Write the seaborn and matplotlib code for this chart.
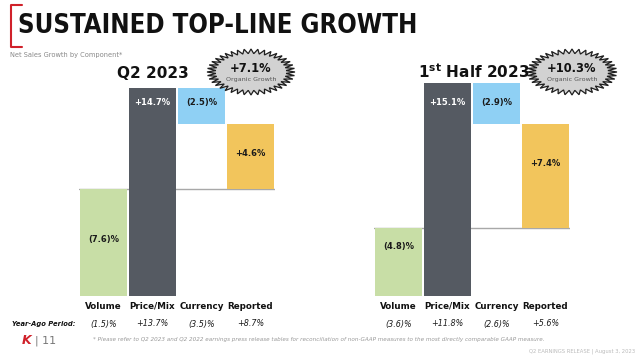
import numpy as np
import pandas as pd
import matplotlib
matplotlib.use("Agg")
import matplotlib.pyplot as plt
import seaborn as sns
from matplotlib import font_manager as fm
from matplotlib.patches import Polygon
from matplotlib.lines import Line2D

# ---------------- data ----------------
categories = ["Volume", "Price/Mix", "Currency", "Reported"]
q2_changes = [-7.6, 14.7, -2.5, 4.6]
h1_changes = [-4.8, 15.1, -2.9, 7.4]
q2_labels = ["(7.6)%", "+14.7%", "(2.5)%", "+4.6%"]
h1_labels = ["(4.8)%", "+15.1%", "(2.9)%", "+7.4%"]
q2_year_ago = ["(1.5)%", "+13.7%", "(3.5)%", "+8.7%"]
h1_year_ago = ["(3.6)%", "+11.8%", "(2.6)%", "+5.6%"]
q2_organic = "+7.1%"
h1_organic = "+10.3%"
bar_colors = ["#C8DEA6", "#555A62", "#8FD0F4", "#F2C55C"]

sns.set_theme(style="white")
plt.rcParams["font.family"] = ["DejaVu Sans"]

W, H = 640, 356
fig = plt.figure(figsize=(W / 100, H / 100), dpi=100)


def fx(px):
    return px / W


def fy(py):
    return 1 - py / H


PX_PER_UNIT = 14.13
AX_TOP, AX_BOT = 80, 296
span = (AX_BOT - AX_TOP) / PX_PER_UNIT

stretch = "normal"
for f in fm.fontManager.ttflist:
    if f.name == "DejaVu Sans" and str(f.stretch) in ("condensed", "semi-condensed"):
        stretch = "condensed"
        break


def waterfall(changes):
    v, p, c, r = changes
    bottoms = [0, v, v + p, 0]
    heights = [v, p, c, r]
    return bottoms, heights


def panel(x0, x1, changes, labels, label_y, year_ago):
    ax = fig.add_axes([fx(x0), fy(AX_BOT), (x1 - x0) / W, (AX_BOT - AX_TOP) / H])
    bottoms, heights = waterfall(changes)
    df = pd.DataFrame({"component": categories, "height": heights})
    sns.barplot(data=df, x="component", y="height", bottom=np.array(bottoms),
                color=bar_colors[0], width=0.96, errorbar=None, linewidth=0,
                ax=ax, zorder=2)
    for patch, col in zip(ax.patches, bar_colors):
        patch.set_facecolor(col)
        patch.set_edgecolor("none")
    ymin = min(changes[0], 0)
    ax.set_ylim(ymin, ymin + span)
    ax.set_xlim(-0.5, 3.5)
    ax.axhline(0, color="#A8A8A8", lw=1.0, zorder=1)
    for s in ax.spines.values():
        s.set_visible(False)
    ax.set_yticks([])
    ax.set_xlabel("")
    ax.set_ylabel("")
    ax.tick_params(axis="x", length=0, pad=4, labelsize=6.3, colors="#111111")
    for t in ax.get_xticklabels():
        t.set_fontweight("bold")
    for i, (lab, ly) in enumerate(zip(labels, label_y)):
        ax.text(i, ly, lab, ha="center", va="center", fontsize=6.0,
                fontweight="bold", color="white" if i == 1 else "#1A1A1A", zorder=3)
    tr = ax.get_xaxis_transform()
    for i, lab in enumerate(year_ago):
        ax.text(i, -(324 - AX_BOT) / (AX_BOT - AX_TOP), lab, transform=tr,
                ha="center", va="center", fontsize=5.8, fontstyle="italic",
                color="#1A1A1A")
    ax.set_facecolor("none")
    return ax


panel(79, 275, q2_changes, q2_labels, [-3.57, 6.06, 6.06, 2.45], q2_year_ago)
panel(374, 570, h1_changes, h1_labels, [-1.33, 8.86, 8.86, 4.61], h1_year_ago)


def starburst(cx, cy, rx, ry, n=40, depth=0.8):
    ang = np.linspace(0, 2 * np.pi, 2 * n, endpoint=False)
    r = np.where(np.arange(2 * n) % 2 == 0, 1.0, depth)
    xs = cx + rx * r * np.cos(ang)
    ys = cy + ry * r * np.sin(ang)
    pts = np.column_stack([fx(xs), fy(ys)])
    fig.patches.append(Polygon(pts, closed=True, transform=fig.transFigure,
                               facecolor="#D2D2D2", edgecolor="#1E1E1E", lw=0.9))


starburst(251, 72, 44, 23)
starburst(572, 72, 45, 23)
fig.text(fx(251), fy(69), q2_organic, ha="center", va="center", fontsize=8.3,
         fontweight="bold", color="#111111")
fig.text(fx(251), fy(80), "Organic Growth", ha="center", va="center",
         fontsize=4.6, color="#555555")
fig.text(fx(572), fy(69), h1_organic, ha="center", va="center", fontsize=8.3,
         fontweight="bold", color="#111111")
fig.text(fx(572), fy(80), "Organic Growth", ha="center", va="center",
         fontsize=4.6, color="#555555")

# panel titles
fig.text(fx(153), fy(73), "Q2 2023", ha="center", va="center", fontsize=11,
         fontweight="bold", color="#111111")
fig.text(fx(474), fy(72), r"1$^{\mathbf{st}}$ Half 2023", ha="center",
         va="center", fontsize=11, fontweight="bold", color="#111111")

# main title
title = fig.text(fx(18), fy(26), "SUSTAINED TOP-LINE GROWTH", ha="left",
                 va="center", fontsize=22, fontweight="heavy",
                 fontstretch=stretch, color="#111111")
fig.canvas.draw()
bb = title.get_window_extent(fig.canvas.get_renderer())
title.set_fontsize(min(22, 22 * 397 / bb.width))

fig.lines.append(Line2D([fx(22), fx(11), fx(11), fx(22)],
                        [fy(5), fy(5), fy(47), fy(47)],
                        transform=fig.transFigure, color="#D0212A", lw=1.5))
fig.text(fx(10), fy(55), "Net Sales Growth by Component*", ha="left",
         va="center", fontsize=4.8, color="#888888")

fig.text(fx(12), fy(324), "Year-Ago Period:", ha="left", va="center",
         fontsize=5.4, fontweight="bold", fontstyle="italic",
         fontstretch=stretch, color="#111111")

fig.text(fx(22), fy(341), "K", ha="left", va="center", fontsize=9,
         fontweight="bold", fontstyle="italic", color="#D0212A")
fig.text(fx(35), fy(341), "| 11", ha="left", va="center", fontsize=8,
         color="#777777")
fig.text(fx(93), fy(340),
         "* Please refer to Q2 2023 and Q2 2022 earnings press release tables for "
         "reconciliation of non-GAAP measures to the most directly comparable GAAP measure.",
         ha="left", va="center", fontsize=4.1, fontstyle="italic", color="#999999")
fig.text(fx(635), fy(351), "Q2 EARNINGS RELEASE | August 3, 2023", ha="right",
         va="center", fontsize=3.8, color="#BBBBBB")

fig.savefig("out.png", dpi=100)
